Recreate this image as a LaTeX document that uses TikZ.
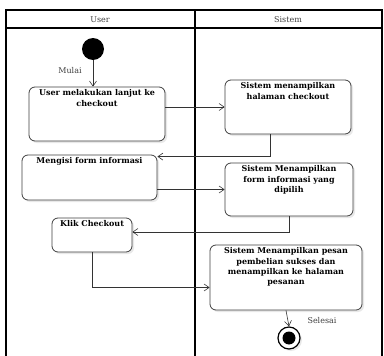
\documentclass[tikz,border=0pt]{standalone}
\usepackage{fontspec}
\setmainfont{DejaVu Serif}
\usepackage{tikz}
\usetikzlibrary{arrows.meta}
\usetikzlibrary{shadows}
\tikzset{act/.style={draw=black!75, fill=white, rounded corners=6pt, line width=0.8pt,
   drop shadow={opacity=0.18, shadow xshift=2pt, shadow yshift=-2pt}},
 acttext/.style={font=\fontsize{8}{10.2}\selectfont\bfseries, align=center, anchor=north, inner sep=3pt},
 flow/.style={draw=black!80, line width=0.6pt, -{Straight Barb[length=5pt, width=7pt]}},
 lane/.style={line width=1.4pt},
 plain/.style={font=\fontsize{8}{9}\selectfont, text=black!75},
 }

\begin{document}
\begin{tikzpicture}[x=1pt, y=-1pt]
        \useasboundingbox (0,0) rectangle (384,356);
        \fill[white] (0,0) rectangle (384,356);
        \draw[lane] (6,356) -- (6,10) -- (382,10) -- (382,356);
        \draw[lane] (6,28) -- (382,28);
        \draw[lane] (195,10) -- (195,356);
        \node[plain] (hdrusr) at (100,19.5) {User};
        \node[plain] (hdrsys) at (288,19.5) {Sistem};

        \node[circle, fill=black, minimum size=22pt, inner sep=0pt] (start) at (93,49) {};
        \node[plain] (mulai) at (70,71) {Mulai};

        \node[act, minimum width=136pt, minimum height=54pt,
          label={[acttext]north:User melakukan lanjut ke\\checkout}] (usr1) at (97,114) {};
        \node[act, minimum width=126pt, minimum height=54pt,
          label={[acttext]north:Sistem menampilkan\\halaman checkout}] (sys1) at (288,107) {};
        \node[act, minimum width=135pt, minimum height=45pt,
          label={[acttext]north:Mengisi form informasi}] (usr2) at (89.5,177.5) {};
        \node[act, minimum width=128pt, minimum height=53pt,
          label={[acttext]north:Sistem Menampilkan\\form informasi yang\\dipilih}] (sys2) at (289,189.5) {};
        \node[act, minimum width=80pt, minimum height=34pt,
          label={[acttext]north:Klik Checkout}] (usr3) at (92,235) {};
        \node[act, minimum width=152pt, minimum height=65pt,
          label={[acttext]north:Sistem Menampilkan pesan\\pembelian sukses dan\\menampilkan ke halaman\\pesanan}] (sys3) at (286,277.5) {};

        \node[circle, draw=black, fill=white, line width=1.2pt, minimum size=22pt, inner sep=0pt,
          drop shadow={opacity=0.18, shadow xshift=2pt, shadow yshift=-2pt}] (stop) at (289,338) {};
        \fill (stop.center) circle (6.5pt);
        \node[plain] (selesai) at (322,321) {Selesai};

        \draw[flow] (start) -- (start |- usr1.north);
        \draw[flow] (usr1.east |- sys1.west) -- (sys1.west);
        \draw[flow] ([xshift=-18pt]sys1.south) |- ([yshift=-2pt]usr2.north east);
        \draw[flow] ([yshift=-12pt]usr2.east) -- ([yshift=-12pt]usr2.east -| sys2.west);
        \draw[flow] (sys2.south) |- ([yshift=3pt]usr3.east);
        \draw[flow] (usr3.south) |- ([yshift=-10pt]sys3.west);
        \draw[flow] (sys3.south) -- (stop.north);
    \end{tikzpicture}
\end{document}
